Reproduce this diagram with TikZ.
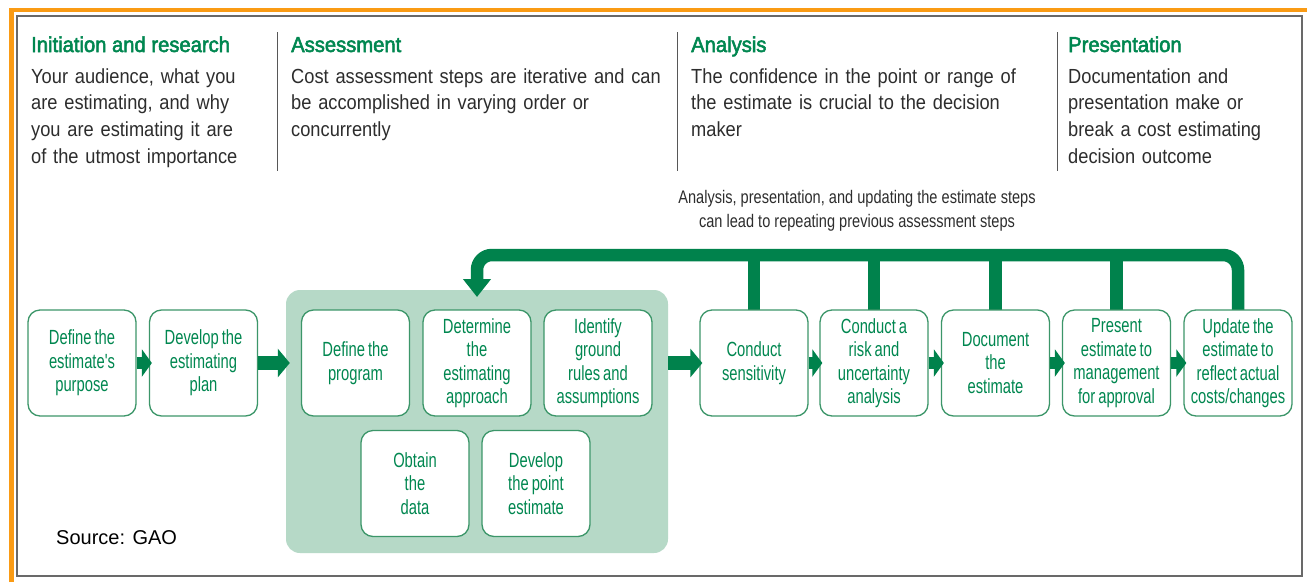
\documentclass[tikz,border=0pt]{standalone}
\usepackage{fontspec}
\setmainfont{Liberation Sans}
\newfontfamily\bodyfont[FakeStretch=0.895]{Liberation Sans}
\newfontfamily\condfont[FakeStretch=0.72]{Liberation Sans}
\newfontfamily\capfont[FakeStretch=0.80]{Liberation Sans}
\newfontfamily\headfont[FakeBold=2.5,FakeStretch=0.94]{Liberation Sans}
\newcommand\boxsp{\fontdimen2\font=3pt\relax}
\newcommand\capsp{\fontdimen2\font=4.1pt\relax}
\usetikzlibrary{arrows.meta}
\definecolor{gHead}{RGB}{0,135,80}
\definecolor{gArrow}{RGB}{0,130,76}
\definecolor{gBorder}{RGB}{60,150,105}
\definecolor{gFill}{RGB}{182,217,199}
\definecolor{txt}{RGB}{45,45,45}
\definecolor{orangeb}{RGB}{250,155,20}
\definecolor{grayb}{RGB}{105,105,105}
\begin{document}
\begin{tikzpicture}[x=1pt,y=-1pt,
  stepbox/.style={draw=gBorder, line width=1.3pt, fill=white, rounded corners=12pt,
    minimum width=108pt, minimum height=106pt, text width=104pt, align=flush center,
    font=\condfont\fontsize{20.5}{23.5}\selectfont\boxsp, text=gHead, inner sep=0pt},
  headtxt/.style={anchor=base west, inner sep=0pt, text=gHead, font=\headfont\fontsize{21.5}{24}\selectfont},
  bodytxt/.style={anchor=base west, inner sep=0pt, text=txt, align=left, text width=420pt,
    font=\bodyfont\fontsize{20.4}{26.7}\selectfont},
  seprule/.style={draw=txt!80, line width=1pt},
  smallarrow/.style={draw=gArrow, line width=12pt, -{Triangle[length=10pt,width=27pt]}},
  bigarrow/.style={draw=gArrow, line width=14pt, -{Triangle[length=12pt,width=28pt]}},
  fb/.style={draw=gArrow, line width=12.5pt},
]
\useasboundingbox (0,0) rectangle (1307,582);
\fill[white] (0,0) rectangle (1307,582);
% frames
\draw[orangeb, line width=4.5pt] (11.5,582) -- (11.5,10) -- (1307,10);
\draw[grayb, line width=2pt] (17,16) rectangle (1302,576);

% header texts
\node[headtxt] (h1) at (31,52) {Initiation and research};
\node[headtxt] (h2) at (291,52) {Assessment};
\node[headtxt] (h3) at (691,52) {Analysis};
\node[headtxt] (h4) at (1068,52) {Presentation};
\node[bodytxt] (t1) at (31,83) {Your audience, what you\\are estimating, and why\\you are estimating it are\\of the utmost importance};
\node[bodytxt] (t2) at (291,83) {Cost assessment steps are iterative and can\\be accomplished in varying order or\\concurrently};
\node[bodytxt] (t3) at (691,83) {The confidence in the point or range of\\the estimate is crucial to the decision\\maker};
\node[bodytxt] (t4) at (1068,83) {Documentation and\\presentation make or\\break a cost estimating\\decision outcome};
\draw[seprule] (277,32) -- (277,171);
\draw[seprule] (677,32) -- (677,171);
\draw[seprule] (1057,32) -- (1057,171);

% caption
\node[align=flush center, inner sep=0pt, anchor=base, text=txt,
  font=\capfont\fontsize{18.2}{24}\selectfont\capsp] (cap) at (857,227)
  {Analysis, presentation, and updating the estimate steps\\can lead to repeating previous assessment steps};

% assessment region
\node[fill=gFill, rounded corners=14pt, minimum width=382pt, minimum height=263pt, inner sep=0pt] (assess) at (477,421.5) {};

% feedback loop
\coordinate (fbtip) at (477,297);
\draw[fb, rounded corners=15pt, -{Triangle[length=18pt,width=27pt]}]
  (1238,310) -- (1238,255) -- (477,255) -- (fbtip);
\foreach \xx in {754,874,995.5,1116.5}
  \draw[fb] (\xx,310) -- (\xx,255);

% boxes
\node[stepbox] (b1) at (82,363) {Define the\\estimate's\\purpose};
\node[stepbox] (b2) at (203.5,363) {Develop the\\estimating\\plan};
\node[stepbox] (a1) at (355.5,363) {Define the\\program};
\node[stepbox] (a2) at (477,363) {Determine\\the\\estimating\\approach};
\node[stepbox] (a3) at (598,363) {Identify\\ground\\rules and\\assumptions};
\node[stepbox] (a4) at (415,483.5) {Obtain\\the\\data};
\node[stepbox] (a5) at (536,483.5) {Develop\\the point\\estimate};
\node[stepbox] (c1) at (754,363) {Conduct\\sensitivity};
\node[stepbox] (c2) at (874,363) {Conduct a\\risk and\\uncertainty\\analysis};
\node[stepbox] (c3) at (995.5,363) {Document\\the\\estimate};
\node[stepbox] (c4) at (1116.5,363) {Present\\estimate to\\management\\for approval};
\node[stepbox] (c5) at (1238,363) {Update the\\estimate to\\reflect actual\\costs/changes};

% arrows
\draw[smallarrow] (b1.east) -- ([xshift=3pt]b2.west);
\draw[bigarrow] (b2.east) -- ([xshift=4pt]b2.east -| assess.west);
\draw[bigarrow] (c1.west -| assess.east) -- ([xshift=3pt]c1.west);
\draw[smallarrow] (c1.east) -- ([xshift=3pt]c2.west);
\draw[smallarrow] (c2.east) -- ([xshift=3pt]c3.west);
\draw[smallarrow] (c3.east) -- ([xshift=3pt]c4.west);
\draw[smallarrow] (c4.east) -- ([xshift=3pt]c5.west);

% source
\fill[white] (35,514) rectangle (237,554);
\node[anchor=base west, inner sep=0pt, text=black, font=\fontsize{20}{22}\selectfont] (src) at (56,544) {Source: GAO};
\end{tikzpicture}
\end{document}
